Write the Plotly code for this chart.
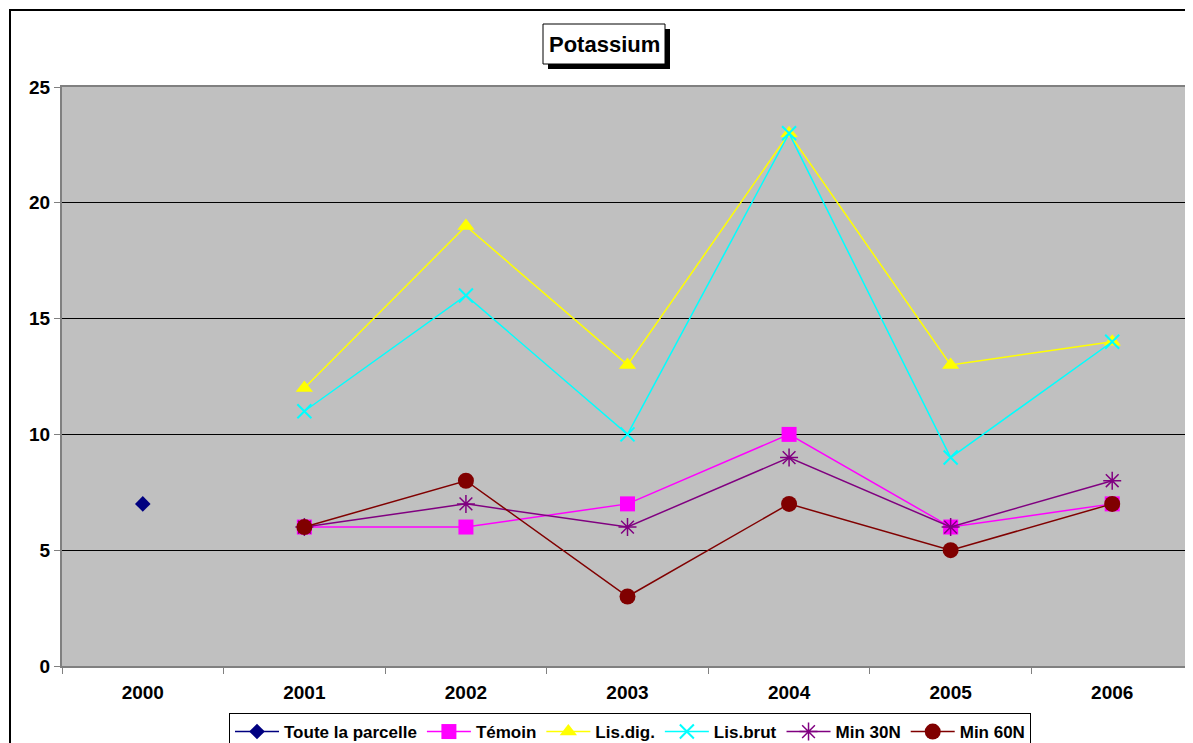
"""Potassium line chart, rebuilt from an Excel-style figure."""

import plotly.graph_objects as go

years = ["2000", "2001", "2002", "2003", "2004", "2005", "2006"]
years_trial = ["2001", "2002", "2003", "2004", "2005", "2006"]

toute_parcelle = [7]
temoin = [6, 6, 7, 10, 6, 7]
lis_dig = [12, 19, 13, 23, 13, 14]
lis_brut = [11, 16, 10, 23, 9, 14]
min_30n = [6, 7, 6, 9, 6, 8]
min_60n = [6, 8, 3, 7, 5, 7]

# page body has an 8px margin, so the figure sits at (8, 8) in the window
OFF = 8
W, H = 1193, 743
L, R, T, B = 62 - OFF, OFF, 87 - OFF, H - (666 - OFF)
PW, PH = W - L - R, H - T - B
FONT = "Liberation Sans, Arial, sans-serif"


def px(x):
    # window pixel -> paper x
    return (x - OFF - L) / PW


def py(y):
    # window pixel -> paper y
    return (H - B - (y - OFF)) / PH


fig = go.Figure()


def add(name, x, y, color, symbol, size, lw=1.5, mline=None):
    marker = dict(symbol=symbol, size=size, color=color)
    if mline is not None:
        marker["line"] = dict(color=color, width=mline)
    fig.add_trace(go.Scatter(
        x=x, y=y, name=name, mode="lines+markers",
        line=dict(color=color, width=lw), marker=marker,
    ))


add("Toute la parcelle", years[:1], toute_parcelle, "#000080", "diamond", 12)
add("Témoin", years_trial, temoin, "#FF00FF", "square", 15)
add("Lis.dig.", years_trial, lis_dig, "#FFFF00", "triangle-up", 15)
add("Lis.brut", years_trial, lis_brut, "#00FFFF", "x-thin", 14, mline=2)
add("Min 30N", years_trial, min_30n, "#800080", "asterisk-open", 15, mline=1.5)
add("Min 60N", years_trial, min_60n, "#800000", "circle", 16)

shapes = [
    # outer chart border
    dict(type="rect", xref="paper", yref="paper", x0=px(10), y0=py(10),
         x1=px(1220), y1=py(780), line=dict(color="black", width=2),
         layer="below"),
    # title shadow + box
    dict(type="rect", xref="paper", yref="paper", x0=px(548), y0=py(29),
         x1=px(670), y1=py(69), fillcolor="black", line=dict(width=0)),
    dict(type="rect", xref="paper", yref="paper", x0=px(543), y0=py(24),
         x1=px(665), y1=py(64), fillcolor="white",
         line=dict(color="black", width=1)),
]

fig.update_layout(
    width=W, height=H, autosize=False,
    margin=dict(l=L, r=R, t=T, b=B, pad=0, autoexpand=False),
    paper_bgcolor="white", plot_bgcolor="#C0C0C0",
    font=dict(family=FONT, color="black"),
    shapes=shapes,
    annotations=[dict(
        text="<b>Potassium</b>", xref="paper", yref="paper",
        x=px(604), y=py(44), xanchor="center", yanchor="middle",
        showarrow=False, font=dict(size=22, family=FONT, color="black"),
    )],
    showlegend=True,
    legend=dict(
        orientation="h", x=px(630), xanchor="center", y=py(713), yanchor="top",
        bgcolor="white", bordercolor="black", borderwidth=1,
        font=dict(size=17, family=FONT, weight="bold"),
        itemwidth=44, tracegroupgap=0,
    ),
)

fig.update_xaxes(
    type="category", categoryorder="array", categoryarray=years,
    range=[-0.5, 6.5], showgrid=False, zeroline=False,
    showline=True, linecolor="#808080", linewidth=2, mirror=True,
    ticks="outside", tickson="boundaries", ticklen=6, tickcolor="#808080",
    ticklabelstandoff=8,
    tickfont=dict(size=19, family=FONT, weight="bold"),
)
fig.update_yaxes(
    range=[0, 25], dtick=5, showgrid=True, gridcolor="black", gridwidth=1,
    zeroline=False, showline=True, linecolor="#808080", linewidth=2,
    mirror=True, ticks="outside", ticklen=6, tickcolor="#808080",
    tickfont=dict(size=19, family=FONT, weight="bold"),
)

fig.write_html("out.html")
